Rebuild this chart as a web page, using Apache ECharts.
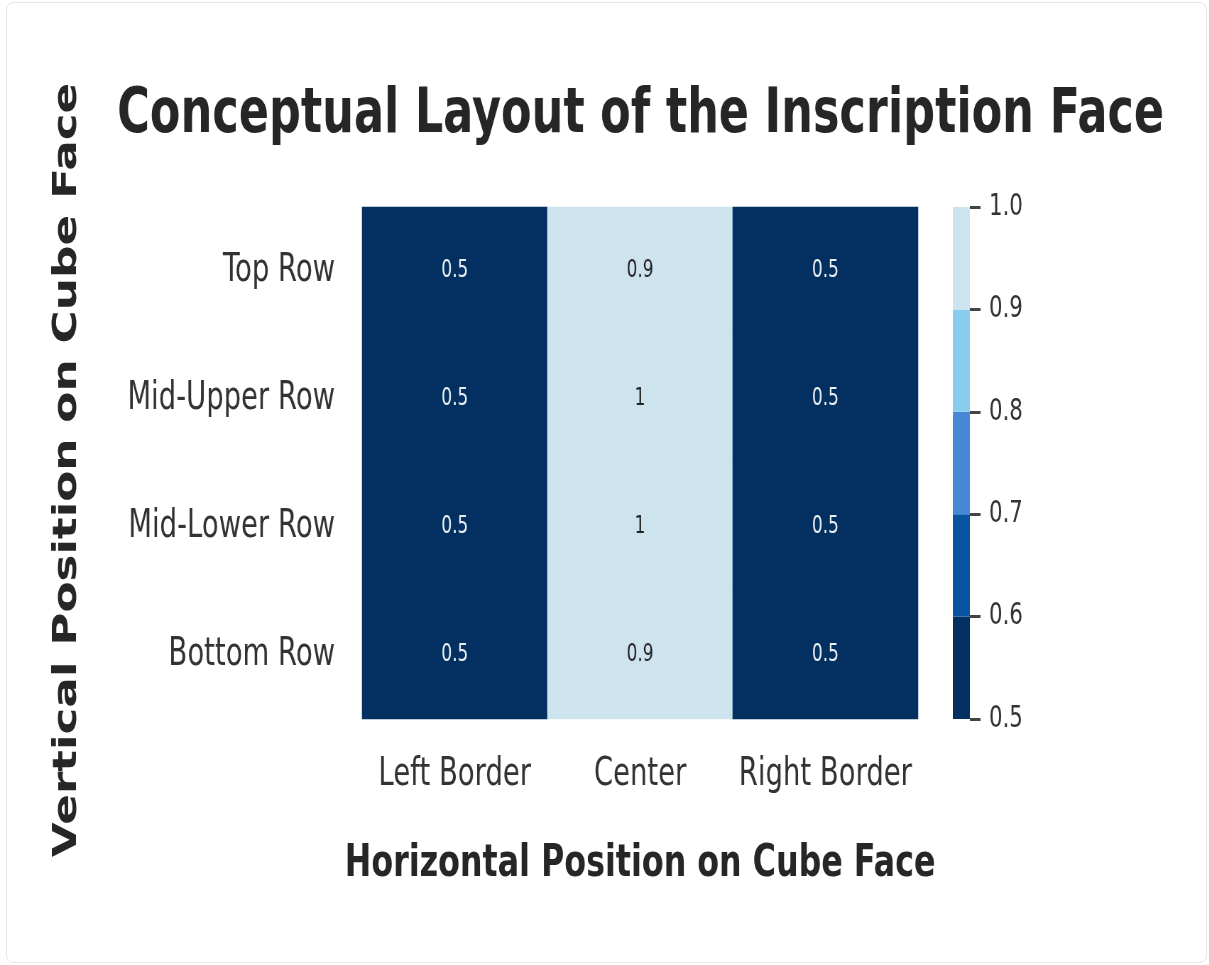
<!DOCTYPE html>
<html>
<head>
<meta charset="utf-8">
<script src="https://cdn.jsdelivr.net/npm/echarts@6/dist/echarts.min.js"></script>
<style>
html,body{margin:0;padding:0;width:1209px;height:965px;overflow:hidden;background:#fff;}
#card{position:absolute;left:6px;top:2px;width:1199px;height:959px;border:1px solid #e4e4e4;border-radius:8px;box-sizing:content-box;}
#chart{position:absolute;left:0;top:0;width:1703px;height:965px;transform:scaleX(0.71);transform-origin:0 0;}
</style>
</head>
<body>
<div id="card"></div>
<div id="chart"></div>
<script>
// ---- data ----
const titleText = 'Conceptual Layout of the Inscription Face';
const xTitle = 'Horizontal Position on Cube Face';
const yTitle = 'Vertical Position on Cube Face';
const columns = ['Left Border', 'Center', 'Right Border'];
const rows = ['Top Row', 'Mid-Upper Row', 'Mid-Lower Row', 'Bottom Row'];
const leftBorder = [0.5, 0.5, 0.5, 0.5];
const center = [0.9, 1, 1, 0.9];
const rightBorder = [0.5, 0.5, 0.5, 0.5];
const binEdges = [0.5, 0.6, 0.7, 0.8, 0.9, 1.0];
const binColors = ['#033060', '#0854a0', '#4688d6', '#88ccee', '#cde4ef'];

// ---- build ----
const colValues = [leftBorder, center, rightBorder];
const cells = [];
colValues.forEach((vals, ci) => {
  vals.forEach((v, ri) => {
    cells.push({
      value: [ci, ri, v],
      label: { color: v >= 0.8 ? '#262626' : '#e8eef4' }
    });
  });
});
const pieces = [];
for (let i = 0; i < binColors.length; i++) {
  const p = { gte: binEdges[i], color: binColors[i] };
  if (i === binColors.length - 1) p.lte = binEdges[i + 1]; else p.lt = binEdges[i + 1];
  pieces.push(p);
}
const barData = binColors.map((c, i) => [binEdges[i], binEdges[i + 1], i]);

const FONT = 'DejaVu Sans';
const chart = echarts.init(document.getElementById('chart'), null, { renderer: 'canvas' });
chart.setOption({
  animation: false,
  backgroundColor: 'transparent',
  title: {
    text: titleText,
    left: 160,
    top: 79,
    textStyle: { fontFamily: FONT, fontWeight: 'bold', fontSize: 62.8, color: '#262626' }
  },
  grid: [
    { left: 510, top: 207, width: 783, height: 512 },
    { left: 1342, top: 207, width: 24, height: 512 }
  ],
  xAxis: [
    {
      type: 'category', gridIndex: 0, data: columns,
      axisLine: { show: false }, axisTick: { show: false }, splitLine: { show: false },
      axisLabel: { fontFamily: FONT, fontSize: 38.7, color: '#333', margin: 36, interval: 0 },
      name: xTitle, nameLocation: 'middle', nameGap: 123,
      nameTextStyle: { fontFamily: FONT, fontWeight: 'bold', fontSize: 44.7, color: '#262626' }
    },
    { type: 'value', gridIndex: 1, min: 0, max: 1, show: false }
  ],
  yAxis: [
    {
      type: 'category', gridIndex: 0, data: rows, inverse: true,
      axisLine: { show: false }, axisTick: { show: false }, splitLine: { show: false },
      axisLabel: { fontFamily: FONT, fontSize: 38.7, color: '#333', margin: 38, interval: 0 },
      name: yTitle, nameLocation: 'middle', nameGap: 392, nameRotate: 90,
      nameTextStyle: { fontFamily: FONT, fontWeight: 'bold', fontSize: 45.3, color: '#262626',
        padding: [0, 14, 0, 0] }
    },
    {
      type: 'value', gridIndex: 1, min: 0.5, max: 1.0, interval: 0.1, position: 'right',
      axisLine: { show: false, onZero: false },
      axisTick: { show: true, inside: false, length: 15, lineStyle: { color: '#444', width: 3 } },
      splitLine: { show: false },
      axisLabel: { fontFamily: FONT, fontSize: 30, color: '#333', margin: 27,
        formatter: v => v.toFixed(1) }
    }
  ],
  visualMap: {
    type: 'piecewise', show: false, seriesIndex: 0, dimension: 2, pieces: pieces
  },
  series: [
    {
      type: 'heatmap', xAxisIndex: 0, yAxisIndex: 0, data: cells,
      label: { show: true, fontFamily: FONT, fontSize: 24, formatter: p => String(p.value[2]) },
      itemStyle: { borderWidth: 0 },
      emphasis: { disabled: true }
    },
    {
      type: 'custom', xAxisIndex: 1, yAxisIndex: 1, data: barData,
      renderItem: (params, api) => {
        const lo = api.value(0), hi = api.value(1), idx = api.value(2);
        const p1 = api.coord([0, lo]);
        const p2 = api.coord([1, hi]);
        return {
          type: 'rect',
          shape: { x: p1[0], y: p2[1], width: p2[0] - p1[0], height: p1[1] - p2[1] },
          style: { fill: binColors[idx] }
        };
      }
    }
  ]
});
</script>
</body>
</html>
